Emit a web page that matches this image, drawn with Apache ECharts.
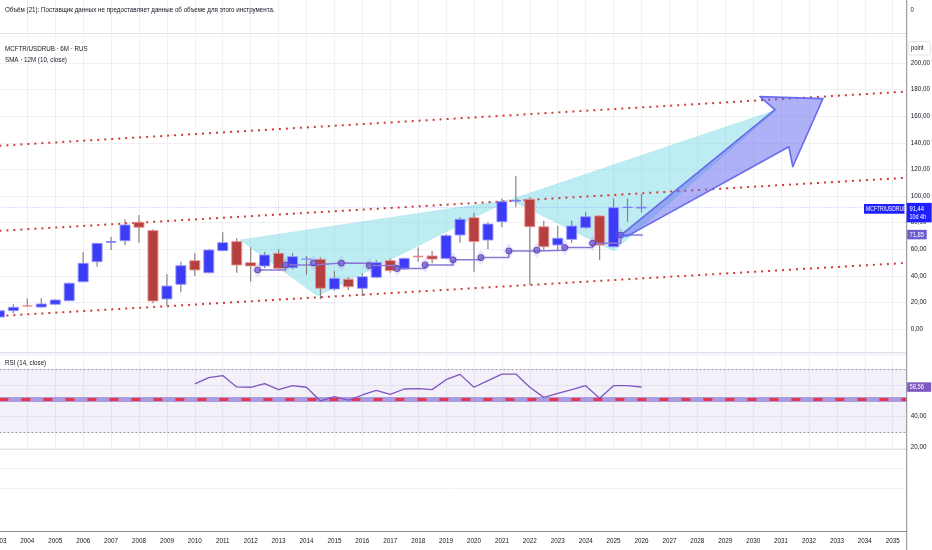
<!DOCTYPE html>
<html><head><meta charset="utf-8">
<script src="https://cdn.jsdelivr.net/npm/echarts@6/dist/echarts.min.js"></script>
<style>html,body{margin:0;padding:0;background:#fff}#c{width:932px;height:550px}</style>
</head><body><div id="c"></div>
<script>
// ---------- data ----------
const periods = [2003.0,2003.5,2004.0,2004.5,2005.0,2005.5,2006.0,2006.5,2007.0,2007.5,2008.0,2008.5,2009.0,2009.5,2010.0,2010.5,2011.0,2011.5,2012.0,2012.5,2013.0,2013.5,2014.0,2014.5,2015.0,2015.5,2016.0,2016.5,2017.0,2017.5,2018.0,2018.5,2019.0,2019.5,2020.0,2020.5,2021.0,2021.5,2022.0,2022.5,2023.0,2023.5,2024.0,2024.5,2025.0,2025.5,2026.0];
const opens  = [9,13.8,17.5,16.5,18.6,21.3,35.5,50.6,64.4,66.4,80.2,74.0,22.6,33.6,51.4,42.3,58.9,65.7,49.9,47.4,56.9,46.1,52.0,52.4,30.1,37.4,30.6,38.9,51.4,45.1,54.6,54.9,53.1,70.7,83.7,66.9,80.7,96.0,97.5,76.9,63.2,67.4,76.2,85.0,61.9,91.0,90.2];
const closes = [13.7,16.3,17.0,18.8,21.8,34.4,49.4,64.4,65.7,78.2,76.5,21.1,32.3,47.6,44.4,59.4,64.9,48.1,47.4,55.6,45.6,54.4,52.6,30.6,38.1,31.8,39.3,49.9,43.9,53.1,54.0,52.6,70.2,82.5,65.7,78.9,95.7,96.5,76.9,61.9,68.2,77.4,84.4,63.2,91.2,91.5,91.44];
const lows   = [8,11.8,16.8,16.3,18.2,21.0,35.5,46.8,59.4,63.2,64.9,19.3,17.3,27.6,39.8,42.0,58.9,42.3,35.6,45.6,43.8,45.0,40.6,22.3,28.8,29.3,24.8,38.1,42.3,44.5,50.6,49.4,52.6,64.9,43.1,59.9,76.5,91.5,33.1,59.4,59.4,64.9,75.0,51.9,61.5,80.7,87.4];
const highs  = [14.5,18.6,23.1,23.1,22.3,34.8,57.7,64.8,69.4,82.5,85.7,75.0,41.4,50.6,56.9,60.0,72.7,68.2,61.4,58.1,59.9,57.4,54.9,53.9,43.8,38.9,41.9,51.9,53.1,53.5,61.4,58.6,71.4,84.0,87.4,80.2,98.2,115.0,99.0,81.4,77.4,81.4,88.2,85.5,98.2,98.2,101.5];

const smaX    = [2012.25,2013.25,2014.25,2015.25,2016.25,2017.25,2018.25,2019.25,2020.25,2021.25,2022.25,2023.25,2024.25,2025.25];
const smaVals = [44.4,48.2,49.7,49.5,47.7,45.4,48.2,52.0,53.7,58.7,59.3,61.2,64.5,70.6];
const smaEndX = 2026.05;
const smaLabel = 71.85;

const rsiStart = 2010.0;
const rsiVals = [60.5,64.5,65.8,58.6,58.4,60.7,56.9,59.4,58.4,49.7,52.4,50.3,53.5,56.5,53.9,57.3,57.5,56.9,63.2,66.6,58.4,62.6,66.8,66.8,58.4,52.0,54.6,56.9,59.4,51.4,59.4,59.4,58.56];

const channelX = [2003.0, 2035.5];
const upperLine  = [137.8, 178.5];
const middleLine = [73.8, 113.7];
const lowerLine  = [9.8, 49.7];

const tri1X = [2011.62, 2014.40, 2021.29];
const tri1Y = [67.0, 24.8, 97.1];
const tri2X = [2021.29, 2025.01, 2030.85];
const tri2Y = [97.1, 58.7, 164.9];
const arrowX = [2025.23, 2030.78, 2030.24, 2032.50, 2031.42, 2031.28, 2025.51];
const arrowY = [70.0, 164.9, 174.7, 173.2, 122.0, 137.0, 70.0];

const priceTicks = [0,20,40,60,80,100,120,140,160,180,200];
const rsiTicks = [20,40];
const rsiBands = [30, 70];
const rsiRedLine = 50.5;

// ---------- chart ----------
const FONT = "'Liberation Sans Narrow','Liberation Sans',Arial,sans-serif";
const TXT = '#131722';
const GRIDC = '#eef0f4';
const fmt = v => v.toFixed(2).replace('.', ',');
const L = -0.6, R = 25.3;
const SX = 0.83;

const candleData = periods.map((p,i)=>[p, opens[i], closes[i], lows[i], highs[i]]);
const rsiData = rsiVals.map((v,i)=>[periods[periods.indexOf(rsiStart)+i], v]);
const smaLine = smaX.map((x,i)=>[x, smaVals[i]]).concat([[smaEndX, smaVals[smaVals.length-1]]]);
const smaPts = smaX.map((x,i)=>[x, smaVals[i]]);
const lastClose = closes[closes.length-1];

function polySeries(xs, ys, fill, stroke, lw, z){
  return {type:'custom', xAxisIndex:0, yAxisIndex:0, z, clip:true, silent:true,
    data: xs.map((x,i)=>[x, ys[i]]), encode:{x:0,y:1},
    renderItem(params, api){
      if (params.dataIndex !== 0) return null;
      const pts = xs.map((x,i)=>api.coord([x, ys[i]]));
      return {type:'polygon', shape:{points:pts}, style:{fill, stroke, lineWidth:lw, lineJoin:'round'}};
    }};
}
function chanSeries(ys){
  return {type:'line', xAxisIndex:0, yAxisIndex:0, z:3, silent:true, symbol:'none',
    data: channelX.map((x,i)=>[x, ys[i]]),
    lineStyle:{color:'#d23a3a', width:2, type:[2,5]}};
}
const xBase = {type:'value', min:2003, max:2035.5, interval:1,
  axisLabel:{show:false}, axisTick:{show:false}, axisLine:{show:false},
  splitLine:{show:true, lineStyle:{color:GRIDC, width:1}}};
const gBase = {left:L, right:R, outerBoundsMode:'none', containLabel:false};

const option = {
  animation:false,
  backgroundColor:'#ffffff',
  grid:[
    Object.assign({}, gBase, {top:36.4, height:319.2}),
    Object.assign({}, gBase, {top:353.25, height:94.5}),
    Object.assign({}, gBase, {top:449, height:82}),
    Object.assign({}, gBase, {top:0, height:33})
  ],
  xAxis:[
    Object.assign({}, xBase, {gridIndex:0}),
    Object.assign({}, xBase, {gridIndex:1}),
    {type:'value', gridIndex:2, min:2003, max:2035.5, interval:1,
      axisLine:{show:true, lineStyle:{color:'#8a8d96', width:1}}, axisTick:{show:false},
      splitLine:{show:false},
      axisLabel:{show:true, fontSize:6.3, color:TXT, fontFamily:FONT, margin:7, showMaxLabel:false, showMinLabel:true,
        formatter: v => (Math.abs(v-Math.round(v))<1e-6 ? String(Math.round(v)) : '')}},
    Object.assign({}, xBase, {gridIndex:3})
  ],
  yAxis:[
    {type:'value', gridIndex:0, position:'right', min:-20, max:220, interval:20,
      axisLine:{show:false}, axisTick:{show:false},
      splitLine:{show:true, lineStyle:{color:GRIDC}},
      axisLabel:{fontSize:6.3, color:TXT, fontFamily:FONT, margin:4,
        formatter: v => priceTicks.includes(v) ? fmt(v) : ''}},
    {type:'value', gridIndex:1, position:'right', min:20, max:80, interval:20,
      axisLine:{show:false}, axisTick:{show:false},
      splitLine:{show:true, lineStyle:{color:GRIDC}},
      axisLabel:{fontSize:6.3, color:TXT, fontFamily:FONT, margin:4,
        formatter: v => rsiTicks.includes(v) ? fmt(v) : ''}},
    {type:'value', gridIndex:2, show:false, min:0, max:1, splitLine:{show:false}},
    {type:'value', gridIndex:3, show:false, min:0, max:1, splitLine:{show:false}}
  ],
  series:[
    polySeries(tri1X, tri1Y, 'rgba(110,212,228,0.45)', 'rgba(110,212,228,0.5)', 0.5, 1),
    polySeries(tri2X, tri2Y, 'rgba(110,212,228,0.45)', 'rgba(110,212,228,0.5)', 0.5, 1),
    chanSeries(upperLine), chanSeries(middleLine), chanSeries(lowerLine),
    {type:'line', xAxisIndex:0, yAxisIndex:0, z:2, silent:true, symbol:'none',
      data:[[2003, lastClose],[2035.5, lastClose]],
      lineStyle:{color:'rgba(70,70,255,0.4)', width:1, type:[1,2]}},
    {type:'custom', xAxisIndex:0, yAxisIndex:0, z:5, clip:true, silent:true,
      data:candleData, encode:{x:0, y:[1,2,3,4]},
      renderItem(params, api){
        const x=api.value(0), o=api.value(1), c=api.value(2), l=api.value(3), h=api.value(4);
        const pH=api.coord([x,h]), pL=api.coord([x,l]), pO=api.coord([x,o]), pC=api.coord([x,c]);
        const w=api.size([0.358,0])[0];
        const up = c>=o;
        const top = Math.min(pO[1],pC[1]);
        const ht = Math.abs(pO[1]-pC[1]);
        const cx = pO[0];
        const children = [{type:'line', shape:{x1:cx,y1:pH[1],x2:cx,y2:pL[1]}, style:{stroke:'#858585', lineWidth:1.2}}];
        if (ht < 2) {
          children.push({type:'rect', shape:{x:cx-w/2, y:top-0.6, width:w, height:Math.max(ht,1.4)},
            style:{fill: up ? '#7f7fff' : '#e88080'}});
        } else {
          children.push({type:'rect', shape:{x:cx-w/2, y:top, width:w, height:ht},
            style:{fill: up ? '#3c3cf6' : '#b6403f', stroke: up ? 'rgba(150,150,255,0.9)' : 'rgba(232,150,150,0.9)', lineWidth:1}});
        }
        return {type:'group', children};
      }},
    {type:'line', xAxisIndex:0, yAxisIndex:0, z:6, silent:true, symbol:'none', step:'end',
      data:smaLine, lineStyle:{color:'#8b78d6', width:1.5}},
    {type:'scatter', xAxisIndex:0, yAxisIndex:0, z:6, silent:true, symbol:'diamond', symbolSize:[12,16],
      data:smaPts, itemStyle:{color:'rgba(149,117,205,0.22)'}},
    {type:'scatter', xAxisIndex:0, yAxisIndex:0, z:7, silent:true, symbol:'circle', symbolSize:6,
      data:smaPts, itemStyle:{color:'#7a62d6', borderColor:'#4b35a8', borderWidth:1}},
    polySeries(arrowX, arrowY, 'rgba(95,100,240,0.5)', 'rgba(100,100,235,0.95)', 1.6, 8),
    {type:'line', xAxisIndex:1, yAxisIndex:1, z:5, silent:true, symbol:'none',
      data:rsiData, lineStyle:{color:'#7e57c2', width:1.3},
      markArea:{silent:true, itemStyle:{color:'rgba(126,87,194,0.09)'}, data:[[{yAxis:rsiBands[0]},{yAxis:rsiBands[1]}]]},
      markLine:{silent:true, symbol:'none', label:{show:false}, animation:false,
        data:[
          {yAxis:rsiBands[1], lineStyle:{color:'#9a9ca4', width:1, type:[2,2]}},
          {yAxis:rsiBands[0], lineStyle:{color:'#9a9ca4', width:1, type:[2,2]}},
          {yAxis:rsiRedLine, lineStyle:{color:'rgba(140,120,215,0.7)', width:5, type:'solid'}},
          {yAxis:rsiRedLine, lineStyle:{color:'#e8364c', width:3, type:[9,13]}}
        ]}}
  ]
};

const chart = echarts.init(document.getElementById('c'), null, {renderer:'canvas', width:932, height:550});
chart.setOption(option);

const yLast = chart.convertToPixel({yAxisIndex:0}, lastClose);
const ySma = chart.convertToPixel({yAxisIndex:0}, smaLabel);
const yRsi = chart.convertToPixel({yAxisIndex:1}, rsiVals[rsiVals.length-1]);
const AX = 906.7;

function txt(x,y,t,opt,sx){
  return {type:'text', x, y, z:100, scaleX: sx==null ? SX : sx,
    style:Object.assign({text:t, fontSize:7.5, fontFamily:FONT, fill:TXT, verticalAlign:'middle', align:'left'}, opt||{})};
}
function hline(y,c,x2){ return {type:'line', z:50, shape:{x1:0,y1:y,x2:x2||AX,y2:y}, style:{stroke:c, lineWidth:1}}; }

chart.setOption({graphic:[
  hline(33.5,'#e0e3eb'), hline(352.5,'#e0e3eb'), hline(449.5,'#e0e3eb'),
  hline(468.5,'#f0f2f6'), hline(488.5,'#f0f2f6'),
  {type:'line', z:60, shape:{x1:AX,y1:0,x2:AX,y2:550}, style:{stroke:'#8a8d96', lineWidth:1}},
  txt(5,10,'Объём (21): Поставщик данных не предоставляет данные об объеме для этого инструмента.'),
  txt(910.5,10,'0',{fontSize:7}),
  txt(5,49,'MCFTR/USDRUB · 6M · RUS'),
  txt(5,60,'SMA · 12M (10, close)'),
  txt(5,363,'RSI (14, close)'),
  {type:'rect', z:90, shape:{x:908,y:41.5,width:22.5,height:13.5,r:2}, style:{fill:'#fff', stroke:'#e0e3eb', lineWidth:1}},
  txt(911,48.3,'point',{fontSize:7}),
  {type:'rect', z:90, shape:{x:864,y:yLast-3.3,width:40.5,height:9.7}, style:{fill:'#2020ff'}},
  txt(866,yLast+1.6,'MCFTR/USDRUB',{fill:'#fff', fontSize:6.5},0.78),
  {type:'rect', z:90, shape:{x:AX,y:yLast-4.5,width:25,height:19.5}, style:{fill:'#2020ff'}},
  txt(909.5,yLast+1.5,fmt(lastClose),{fill:'#fff', fontSize:7}),
  txt(909.5,yLast+10,'10d 4h',{fill:'#fff', fontSize:6.5}),
  {type:'rect', z:90, shape:{x:AX+0.5,y:ySma-3.6,width:19.5,height:9.5}, style:{fill:'#6a5bcf'}},
  txt(909.5,ySma+1.2,fmt(smaLabel),{fill:'#fff', fontSize:7}),
  {type:'rect', z:90, shape:{x:AX+0.5,y:yRsi-4.7,width:24,height:9.5}, style:{fill:'#7e57c2'}},
  txt(909.5,yRsi+0.1,fmt(rsiVals[rsiVals.length-1]),{fill:'#fff', fontSize:7})
]});
</script>
</body></html>
